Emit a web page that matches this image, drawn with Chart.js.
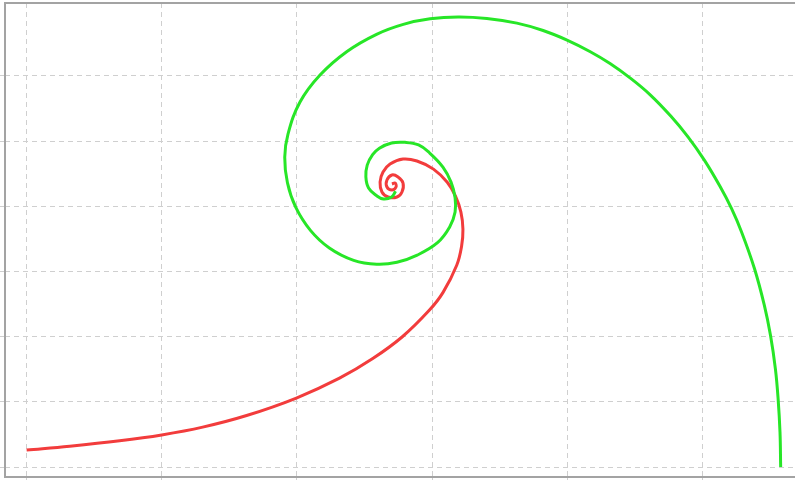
<!DOCTYPE html>
<html>
<head>
<meta charset="utf-8">
<script src="https://cdn.jsdelivr.net/npm/chart.js@4/dist/chart.umd.min.js"></script>
<style>
  html, body { margin: 0; padding: 0; background: #fff; }
  #spiral { display: block; }
</style>
</head>
<body>
<canvas id="spiral" width="795" height="480"></canvas>
<script>
// points, in grid units (one grid cell = 1)
const greenX = [2.73, 2.70, 2.64, 2.59, 2.53, 2.51, 2.52, 2.56, 2.61, 2.70, 2.80, 2.90, 2.98, 3.08, 3.14, 3.17,
  3.17, 3.13, 3.04, 2.89, 2.74, 2.59, 2.42, 2.24, 2.10, 1.99, 1.93, 1.91, 1.934, 2.023, 2.171, 2.368, 2.589,
  2.787, 2.985, 3.192, 3.405, 3.627, 3.821, 3.998, 4.170, 4.316, 4.466, 4.613, 4.765, 4.894, 5.016, 5.129,
  5.215, 5.288, 5.384, 5.457, 5.503, 5.539, 5.559, 5.573, 5.578];
const greenY = [4.23, 4.14, 4.11, 4.16, 4.28, 4.45, 4.63, 4.79, 4.89, 4.97, 4.98, 4.94, 4.82, 4.60, 4.37, 4.13,
  3.91, 3.68, 3.44, 3.25, 3.14, 3.11, 3.17, 3.36, 3.63, 3.99, 4.36, 4.75, 5.107, 5.598, 6.012, 6.370, 6.637,
  6.790, 6.874, 6.903, 6.880, 6.808, 6.695, 6.548, 6.370, 6.189, 5.965, 5.709, 5.383, 5.060, 4.699, 4.305,
  3.963, 3.609, 3.045, 2.483, 2.017, 1.506, 1.049, 0.537, 0.000];

const redX = [2.703, 2.726, 2.733, 2.703, 2.666, 2.666, 2.703, 2.748, 2.785, 2.777, 2.740, 2.674, 2.629, 2.615,
  2.637, 2.689, 2.785, 2.888, 3.010, 3.112, 3.173, 3.213, 3.228, 3.218, 3.182, 3.081, 2.977, 2.780, 2.561,
  2.315, 1.996, 1.628, 1.303, 1.000, 0.689, 0.320, 0.001];
const redY = [4.341, 4.356, 4.295, 4.249, 4.295, 4.402, 4.479, 4.448, 4.356, 4.218, 4.141, 4.141, 4.218, 4.371,
  4.525, 4.647, 4.724, 4.693, 4.569, 4.367, 4.155, 3.910, 3.647, 3.387, 3.095, 2.679, 2.399, 1.998, 1.664,
  1.363, 1.058, 0.790, 0.612, 0.492, 0.402, 0.319, 0.261];

const xTicks = [0, 1, 2, 3, 4, 5];
const yTicks = [0, 1, 2, 3, 4, 5, 6];

function toPoints(xs, ys) {
  return xs.map((x, i) => ({ x: x, y: ys[i] }));
}

// grey frame on the left, top and bottom of the plot
const framePlugin = {
  id: "frame",
  afterDraw(chart) {
    const { ctx, chartArea } = chart;
    ctx.save();
    ctx.strokeStyle = "#a3a3a3";
    ctx.lineWidth = 2;
    ctx.beginPath();
    ctx.moveTo(chartArea.right + 2, chartArea.top);
    ctx.lineTo(chartArea.left, chartArea.top);
    ctx.lineTo(chartArea.left, chartArea.bottom);
    ctx.lineTo(chartArea.right + 2, chartArea.bottom);
    ctx.stroke();
    ctx.restore();
  },
};

function gridAxis(min, max, values, tickLength) {
  return {
    type: "linear",
    min: min,
    max: max,
    afterBuildTicks: (axis) => {
      axis.ticks = values.map((v) => ({ value: v }));
    },
    ticks: { display: false },
    grid: { color: "#cfcfcf", lineWidth: 1, drawTicks: true, tickLength: tickLength },
    border: { display: false, dash: [5, 4] },
  };
}

new Chart(document.getElementById("spiral"), {
  type: "scatter",
  data: {
    datasets: [
      {
        label: "green",
        data: toPoints(greenX, greenY),
        showLine: true,
        borderColor: "#27e627",
        borderWidth: 3,
        pointRadius: 0,
        tension: 0.4,
      },
      {
        label: "red",
        data: toPoints(redX, redY),
        showLine: true,
        borderColor: "#f23c3c",
        borderWidth: 3,
        pointRadius: 0,
        tension: 0.4,
      },
    ],
  },
  options: {
    responsive: false,
    animation: false,
    layout: { padding: { left: 0, top: 3, right: 0, bottom: 0 } },
    plugins: { legend: { display: false }, tooltip: { enabled: false } },
    scales: {
      x: gridAxis(-0.159, 5.684, xTicks, 3),
      y: gridAxis(-0.153, 7.117, yTicks, 5),
    },
  },
  plugins: [framePlugin],
});
</script>
</body>
</html>
